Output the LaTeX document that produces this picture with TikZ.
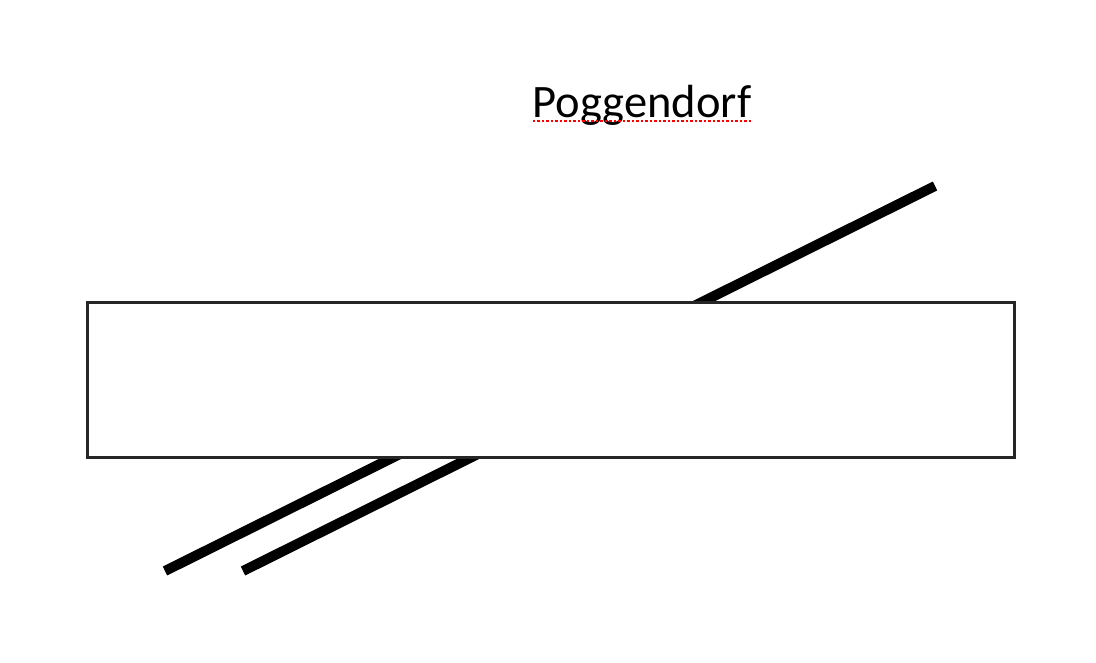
\documentclass[tikz,border=0pt]{standalone}
\usepackage{fontspec}
\setmainfont{Carlito}
\begin{document}
\begin{tikzpicture}[x=1pt,y=-1pt,
  thickline/.style={line width=10pt,line cap=butt},
  frame/.style={draw=black!85,line width=2.8pt,fill=white},
  spell/.style={draw=red,line width=2.4pt,dash pattern=on 2.5pt off 2pt}]
\useasboundingbox (0,0) rectangle (1096,662);
\node[anchor=base,font=\fontsize{46.5}{52}\selectfont,inner sep=0pt] (title) at (642,117) {Poggendorf};
\coordinate (ul) at ([yshift=-4pt]title.base west);
\coordinate (ur) at ([yshift=-4pt]title.base east);
\draw[spell] (ul) -- (ur);
% lines
\coordinate (a1) at (935,186);
\coordinate (a2) at (690,308);
\coordinate (b1) at (165,571);
\coordinate (b2) at (410,449);
\coordinate (c1) at (243,571);
\coordinate (c2) at (488,449);
\draw[thickline] (a1) -- (a2);
\draw[thickline] (b1) -- (b2);
\draw[thickline] (c1) -- (c2);
\node[frame,minimum width=927pt,minimum height=155pt,inner sep=0pt,anchor=north west] (box) at (86,301) {};
\end{tikzpicture}
\end{document}
